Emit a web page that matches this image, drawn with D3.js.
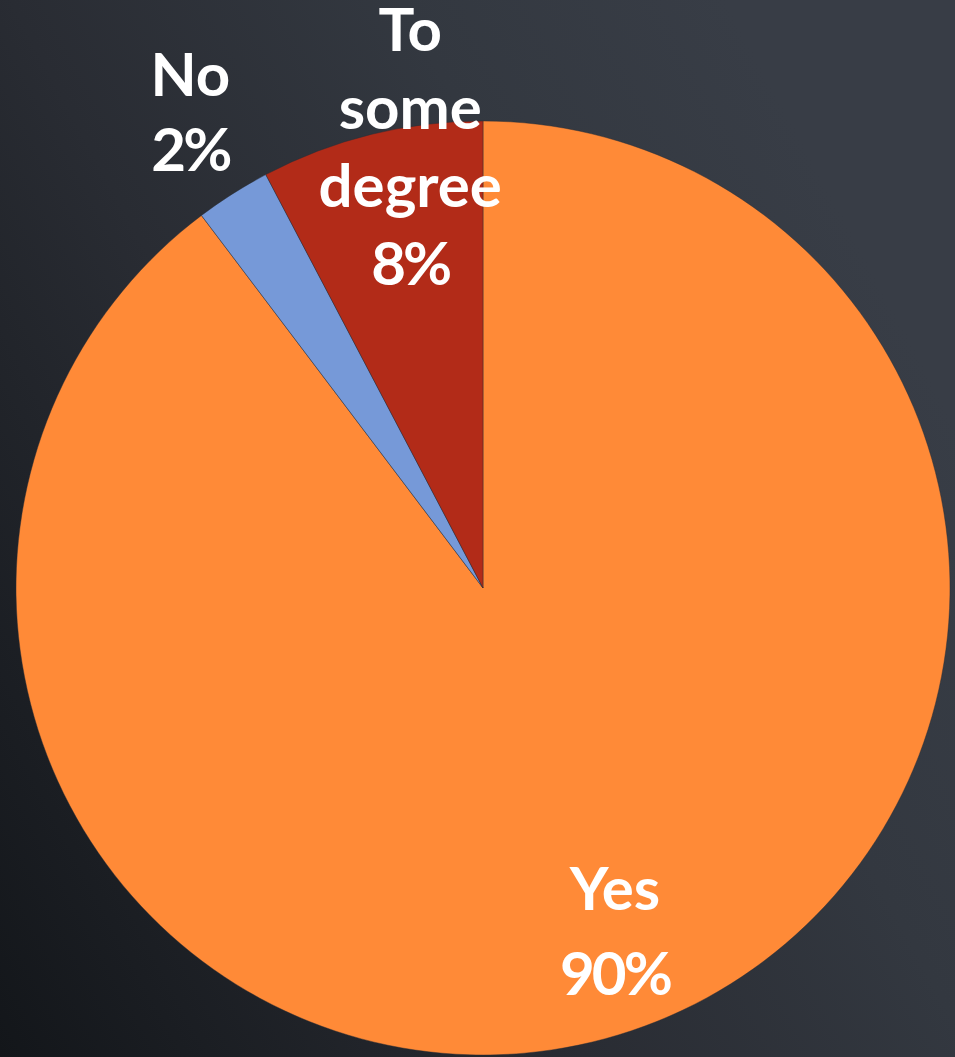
<!DOCTYPE html>
<html>
<head>
<meta charset="utf-8">
<script src="https://cdn.jsdelivr.net/npm/d3@7/dist/d3.min.js"></script>
<style>
  html, body { margin: 0; padding: 0; background: #22252b; }
  svg { display: block; }
</style>
</head>
<body>
<svg id="chart" width="955" height="1057"></svg>
<script>
// ---- data ----
const categories = ["Yes", "No", "To some degree"];
const values = [89.7, 2.6, 7.7];
const percentLabels = ["90%", "2%", "8%"];
const labelLines = [["Yes"], ["No"], ["To", "some", "degree"]];
const colors = ["#FF8A37", "#7699D8", "#B22B18"];

// ---- layout ----
const W = 955, H = 1057;
const cx = 483, cy = 588, R = 467;
const svg = d3.select("#chart");

const defs = svg.append("defs");
const grad = defs.append("linearGradient")
  .attr("id", "bg").attr("x1", "0").attr("y1", "1").attr("x2", "1").attr("y2", "0.4");
grad.append("stop").attr("offset", "0").attr("stop-color", "#13161a");
grad.append("stop").attr("offset", "0.45").attr("stop-color", "#292c33");
grad.append("stop").attr("offset", "0.75").attr("stop-color", "#333840");
grad.append("stop").attr("offset", "1").attr("stop-color", "#383d46");
svg.append("rect").attr("width", W).attr("height", H).attr("fill", "url(#bg)");

const data = categories.map((c, i) => ({ cat: c, value: values[i], pct: percentLabels[i], lines: labelLines[i], color: colors[i] }));

const pie = d3.pie().sort(null).value(d => d.value);
const arcs = pie(data);
const arc = d3.arc().innerRadius(0).outerRadius(R);

const g = svg.append("g").attr("transform", `translate(${cx},${cy})`);
g.selectAll("path.slice").data(arcs).enter().append("path")
  .attr("class", "slice")
  .attr("d", arc)
  .attr("fill", d => d.data.color)
  .attr("stroke", "rgba(40,44,52,0.55)")
  .attr("stroke-width", 0.8)
  .attr("stroke-linejoin", "round");

// label placement: radius factor and angular shift (deg) relative to slice middle
const labelPlacement = [
  { rf: 0.787, shift: -2.5, lh: 85 },
  { rf: 1.196, shift: 0.8, lh: 75 },
  { rf: 0.958, shift: 4.5, lh: 78 }
];
const fontSize = 60;
const capHalf = fontSize * 0.36;

const labels = g.selectAll("g.lbl").data(arcs).enter().append("g").attr("class", "lbl")
  .attr("transform", (d, i) => {
    const p = labelPlacement[i];
    const mid = (d.startAngle + d.endAngle) / 2 + p.shift * Math.PI / 180;
    const r = R * p.rf;
    return `translate(${r * Math.sin(mid)},${-r * Math.cos(mid)})`;
  });

labels.each(function (d, i) {
  const p = labelPlacement[i];
  const lines = d.data.lines.map(t => ({ t, pct: false })).concat([{ t: d.data.pct, pct: true }]);
  const n = lines.length;
  const t = d3.select(this).append("text")
    .attr("text-anchor", "middle")
    .attr("fill", "#ffffff")
    .attr("font-family", "Lato, 'Open Sans', sans-serif")
    .attr("font-weight", 700)
    .attr("font-size", fontSize);
  lines.forEach((ln, k) => {
    t.append("tspan")
      .attr("x", 0)
      .attr("y", (k - (n - 1) / 2) * p.lh + capHalf)
      .attr("letter-spacing", ln.pct ? -3 : 0)
      .text(ln.t);
  });
});
</script>
</body>
</html>
